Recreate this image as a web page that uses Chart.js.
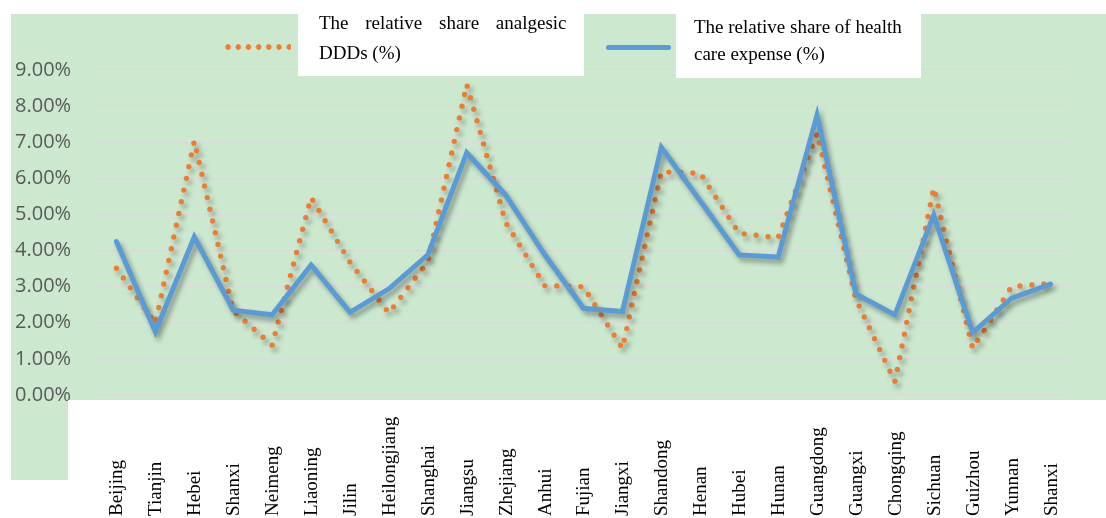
<!DOCTYPE html>
<html>
<head>
<meta charset="utf-8">
<title>Relative share of analgesic DDDs and health care expense</title>
<script src="https://cdn.jsdelivr.net/npm/chart.js@4/dist/chart.umd.min.js"></script>
<style>
  body { margin: 0; background: #ffffff; }
  #wrap { position: relative; width: 1106px; height: 518px; overflow: hidden; }
  .green { position: absolute; background: #cce8cf; }
  #plotBg { left: 11px; top: 14px; width: 1095px; height: 386px; }
  #strip { left: 11px; top: 400px; width: 57px; height: 80px; }
  #lineChart { position: absolute; left: 0; top: 0; }
  .box { position: absolute; background: #ffffff; }
  .legendText { position: absolute; font-family: 'Liberation Serif', 'Times New Roman', serif;
                font-size: 19px; color: #000000; white-space: nowrap; }
  #dots { position: absolute; left: 223px; top: 44px; width: 68px; height: 6px;
          background: radial-gradient(circle, #ed7d31 2.5px, rgba(237,125,49,0) 3px) 0 0 / 10.2px 6px repeat-x; }
  #solid { position: absolute; left: 606px; top: 44.5px; width: 65px; height: 5px;
           background: #5b9bd5; border-radius: 3px; }
</style>
</head>
<body>
<div id="wrap">
  <div class="green" id="plotBg"></div>
  <div class="green" id="strip"></div>
  <canvas id="lineChart" width="1106" height="518"></canvas>
  <!-- white area below the plot clips the bottom of the 0.00% label -->
  <div class="box" style="left:68px; top:400px; width:40px; height:10px;"></div>

  <!-- legend: white boxes with two-line labels -->
  <div id="dots"></div>
  <div class="box" style="left:298px; top:14px; width:286px; height:62px;"></div>
  <div class="legendText" style="left:319px; top:8px; line-height:30px;"><span style="word-spacing:12px;">The relative share analgesic</span><br>DDDs (%)</div>
  <div id="solid"></div>
  <div class="box" style="left:676px; top:14px; width:245px; height:64px;"></div>
  <div class="legendText" style="left:694px; top:13px; line-height:27px;">The relative share of health<br>care expense (%)</div>
</div>

<script>
// provinces on the x axis
const provinces = ['Beijing', 'Tianjin', 'Hebei', 'Shanxi', 'Neimeng', 'Liaoning', 'Jilin',
  'Heilongjiang', 'Shanghai', 'Jiangsu', 'Zhejiang', 'Anhui', 'Fujian', 'Jiangxi', 'Shandong',
  'Henan', 'Hubei', 'Hunan', 'Guangdong', 'Guangxi', 'Chongqing', 'Sichuan', 'Guizhou',
  'Yunnan', 'Shanxi'];

// relative share analgesic DDDs (%)
const dddShare = [3.51, 1.98, 7.03, 2.33, 1.38, 5.47, 3.68, 2.27, 3.69, 8.60, 4.78, 3.03, 3.00,
  1.29, 6.18, 6.14, 4.48, 4.35, 7.25, 2.65, 0.37, 5.74, 1.29, 3.00, 3.09];

// relative share of health care expense (%)
const expenseShare = [4.25, 1.75, 4.38, 2.35, 2.22, 3.60, 2.29, 2.94, 3.88, 6.71, 5.54, 3.89, 2.40,
  2.31, 6.86, 5.37, 3.88, 3.82, 7.75, 2.80, 2.22, 4.98, 1.73, 2.68, 3.07];

// y axis ticks (%)
const yMin = 0;
const yMax = 9;
const yStep = 1;

// soft drop shadow under each line, like the office chart
const lineShadow = {
  id: 'lineShadow',
  beforeDatasetDraw(chart) {
    const ctx = chart.ctx;
    ctx.save();
    ctx.shadowColor = 'rgba(0, 0, 0, 0.35)';
    ctx.shadowBlur = 5;
    ctx.shadowOffsetX = 3;
    ctx.shadowOffsetY = 4;
  },
  afterDatasetDraw(chart) {
    chart.ctx.restore();
  }
};

// vertical category labels, read bottom to top, starting from the bottom edge
const bottomLabels = {
  id: 'bottomLabels',
  afterDraw(chart) {
    const ctx = chart.ctx;
    const xScale = chart.scales.x;
    ctx.save();
    ctx.font = '19px "Liberation Serif", "Times New Roman", serif';
    ctx.fillStyle = '#000000';
    ctx.textAlign = 'left';
    ctx.textBaseline = 'middle';
    provinces.forEach((name, i) => {
      const x = xScale.getPixelForValue(i);
      ctx.save();
      ctx.translate(x + 1, 516);
      ctx.rotate(-Math.PI / 2);
      ctx.fillText(name, 0, 0);
      ctx.restore();
    });
    ctx.restore();
  }
};

const myChart = new Chart(document.getElementById('lineChart'), {
  type: 'line',
  data: {
    labels: provinces,
    datasets: [
      {
        label: 'The relative share of health care expense (%)',
        data: expenseShare,
        borderColor: '#5b9bd5',
        borderWidth: 5,
        borderJoinStyle: 'miter',
        borderCapStyle: 'round',
        pointRadius: 0,
        fill: false,
        tension: 0
      },
      {
        label: 'The relative share analgesic DDDs (%)',
        data: dddShare,
        borderColor: '#ed7d31',
        borderWidth: 5.4,
        borderDash: [0, 12],       // round dots
        borderCapStyle: 'round',
        pointRadius: 0,
        fill: false,
        tension: 0
      }
    ]
  },
  options: {
    responsive: false,
    animation: false,
    layout: {
      padding: { left: 15, right: 36, top: 70, bottom: 123 }
    },
    scales: {
      x: {
        display: false,
        offset: true
      },
      y: {
        min: yMin,
        max: yMax,
        afterFit(scale) { scale.width = 82; },   // plot starts at x = 97
        ticks: {
          stepSize: yStep,
          crossAlign: 'far',
          padding: 0,
          color: '#595959',
          font: { family: '"Open Sans", sans-serif', size: 20 },
          callback: v => v.toFixed(2) + '%'
        },
        grid: {
          color: '#d9d9d9',
          lineWidth: 1.3,
          drawTicks: false
        },
        border: { display: false }
      }
    },
    plugins: {
      legend: { display: false },
      tooltip: { enabled: false }
    }
  },
  plugins: [lineShadow, bottomLabels]
});
</script>
</body>
</html>
